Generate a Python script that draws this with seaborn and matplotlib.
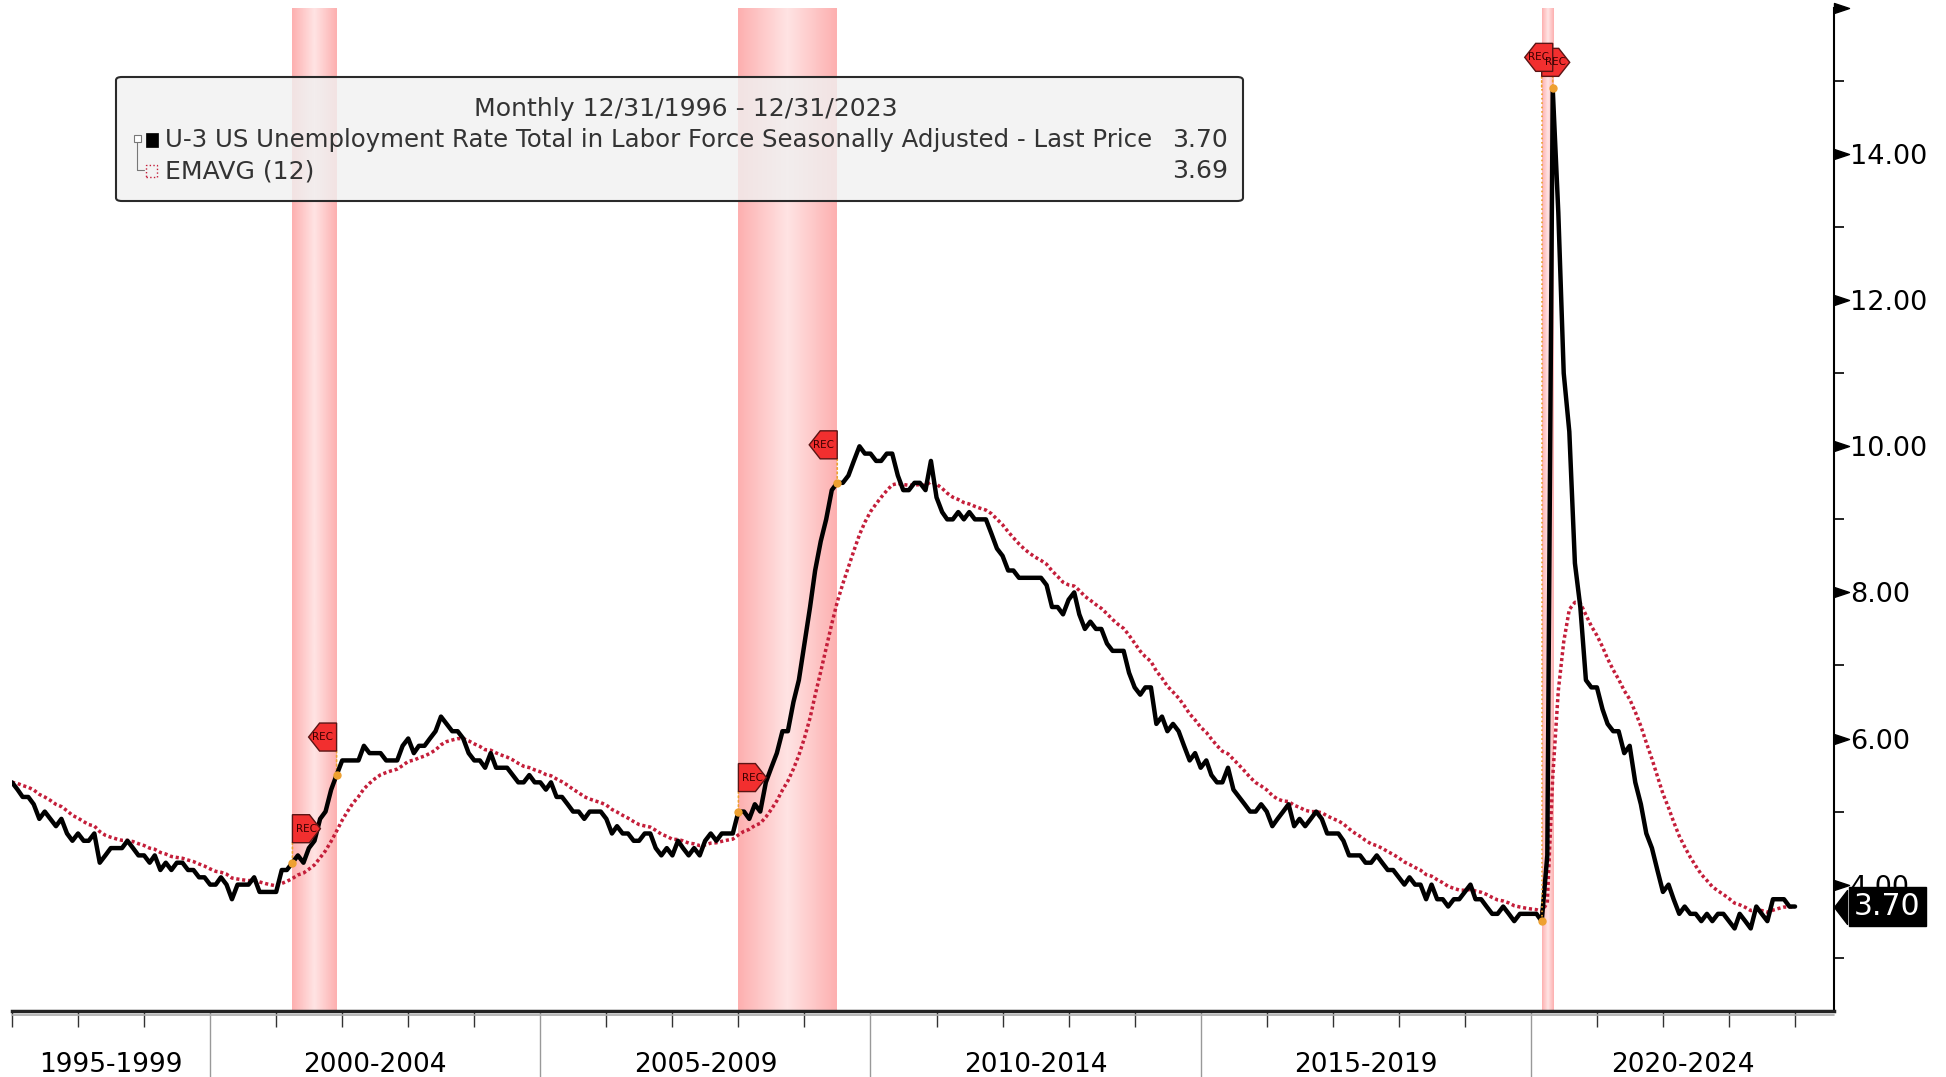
import numpy as np
import pandas as pd
import seaborn as sns
import matplotlib.pyplot as plt
import matplotlib.transforms as mtransforms
from matplotlib import font_manager as fm
from matplotlib.colors import LinearSegmentedColormap
from matplotlib.patches import Polygon, FancyBboxPatch, Rectangle
from matplotlib.lines import Line2D
from matplotlib.path import Path

# U-3 unemployment rate, monthly, Dec 1996 .. Dec 2023
unemp = [5.4,
         5.3, 5.2, 5.2, 5.1, 4.9, 5.0, 4.9, 4.8, 4.9, 4.7, 4.6, 4.7,   # 1997
         4.6, 4.6, 4.7, 4.3, 4.4, 4.5, 4.5, 4.5, 4.6, 4.5, 4.4, 4.4,   # 1998
         4.3, 4.4, 4.2, 4.3, 4.2, 4.3, 4.3, 4.2, 4.2, 4.1, 4.1, 4.0,   # 1999
         4.0, 4.1, 4.0, 3.8, 4.0, 4.0, 4.0, 4.1, 3.9, 3.9, 3.9, 3.9,   # 2000
         4.2, 4.2, 4.3, 4.4, 4.3, 4.5, 4.6, 4.9, 5.0, 5.3, 5.5, 5.7,   # 2001
         5.7, 5.7, 5.7, 5.9, 5.8, 5.8, 5.8, 5.7, 5.7, 5.7, 5.9, 6.0,   # 2002
         5.8, 5.9, 5.9, 6.0, 6.1, 6.3, 6.2, 6.1, 6.1, 6.0, 5.8, 5.7,   # 2003
         5.7, 5.6, 5.8, 5.6, 5.6, 5.6, 5.5, 5.4, 5.4, 5.5, 5.4, 5.4,   # 2004
         5.3, 5.4, 5.2, 5.2, 5.1, 5.0, 5.0, 4.9, 5.0, 5.0, 5.0, 4.9,   # 2005
         4.7, 4.8, 4.7, 4.7, 4.6, 4.6, 4.7, 4.7, 4.5, 4.4, 4.5, 4.4,   # 2006
         4.6, 4.5, 4.4, 4.5, 4.4, 4.6, 4.7, 4.6, 4.7, 4.7, 4.7, 5.0,   # 2007
         5.0, 4.9, 5.1, 5.0, 5.4, 5.6, 5.8, 6.1, 6.1, 6.5, 6.8, 7.3,   # 2008
         7.8, 8.3, 8.7, 9.0, 9.4, 9.5, 9.5, 9.6, 9.8, 10.0, 9.9, 9.9,  # 2009
         9.8, 9.8, 9.9, 9.9, 9.6, 9.4, 9.4, 9.5, 9.5, 9.4, 9.8, 9.3,   # 2010
         9.1, 9.0, 9.0, 9.1, 9.0, 9.1, 9.0, 9.0, 9.0, 8.8, 8.6, 8.5,   # 2011
         8.3, 8.3, 8.2, 8.2, 8.2, 8.2, 8.2, 8.1, 7.8, 7.8, 7.7, 7.9,   # 2012
         8.0, 7.7, 7.5, 7.6, 7.5, 7.5, 7.3, 7.2, 7.2, 7.2, 6.9, 6.7,   # 2013
         6.6, 6.7, 6.7, 6.2, 6.3, 6.1, 6.2, 6.1, 5.9, 5.7, 5.8, 5.6,   # 2014
         5.7, 5.5, 5.4, 5.4, 5.6, 5.3, 5.2, 5.1, 5.0, 5.0, 5.1, 5.0,   # 2015
         4.8, 4.9, 5.0, 5.1, 4.8, 4.9, 4.8, 4.9, 5.0, 4.9, 4.7, 4.7,   # 2016
         4.7, 4.6, 4.4, 4.4, 4.4, 4.3, 4.3, 4.4, 4.3, 4.2, 4.2, 4.1,   # 2017
         4.0, 4.1, 4.0, 4.0, 3.8, 4.0, 3.8, 3.8, 3.7, 3.8, 3.8, 3.9,   # 2018
         4.0, 3.8, 3.8, 3.7, 3.6, 3.6, 3.7, 3.6, 3.5, 3.6, 3.6, 3.6,   # 2019
         3.6, 3.5, 4.4, 14.9, 13.2, 11.0, 10.2, 8.4, 7.8, 6.8, 6.7, 6.7,  # 2020
         6.4, 6.2, 6.1, 6.1, 5.8, 5.9, 5.4, 5.1, 4.7, 4.5, 4.2, 3.9,   # 2021
         4.0, 3.8, 3.6, 3.7, 3.6, 3.6, 3.5, 3.6, 3.5, 3.6, 3.6, 3.5,   # 2022
         3.4, 3.6, 3.5, 3.4, 3.7, 3.6, 3.5, 3.8, 3.8, 3.8, 3.7, 3.7]   # 2023

recessions = [('2001-03', '2001-11'), ('2007-12', '2009-06'), ('2020-02', '2020-04')]
period_labels = ['1995-1999', '2000-2004', '2005-2009', '2010-2014', '2015-2019', '2020-2024']
period_bounds = [1997, 2000, 2005, 2010, 2015, 2020]
y_major = [4, 6, 8, 10, 12, 14, 16]
y_minor = [3, 5, 7, 9, 11, 13, 15]
title_text = 'Monthly 12/31/1996 - 12/31/2023'
series_name = 'U-3 US Unemployment Rate Total in Labor Force Seasonally Adjusted - Last Price'
ema_name = 'EMAVG (12)'
last_price = 3.70
ema_last = 3.69

W, H = 1946, 1077
XMIN, XMAX = 1997.0, 2024.59
YMIN, YMAX = 2.27, 16.0


def dec_year(d):
    # month-end date -> decimal year
    d = pd.DatetimeIndex(np.atleast_1d(d))
    days = np.where(d.is_leap_year, 366, 365)
    return np.asarray(d.year + d.dayofyear / days, dtype=float)


dates = pd.date_range('1996-12-31', periods=len(unemp), freq='ME')
df = pd.DataFrame({'date': dates, 'rate': unemp})
df['x'] = dec_year(dates)
df['ema'] = df['rate'].ewm(span=12, adjust=False).mean()


def pick_font(names):
    for n in names:
        try:
            fm.findfont(fm.FontProperties(family=n), fallback_to_default=False)
            return n
        except ValueError:
            pass
    return 'DejaVu Sans'


sns.set_style('white')
plt.rcParams['font.family'] = ['DejaVu Sans']
narrow = pick_font(['Liberation Sans Narrow', 'DejaVu Sans'])

fig = plt.figure(figsize=(W / 100, H / 100), dpi=100)
ax = fig.add_axes([12 / W, 66 / H, 1822 / W, 1003 / H])
ax.set_xlim(XMIN, XMAX)
ax.set_ylim(YMIN, YMAX)

# recession bands, lighter in the middle
band_cmap = LinearSegmentedColormap.from_list('band', ['#ffe3e3', '#fdb0b0'])
grad = np.abs(np.linspace(-1, 1, 64))[np.newaxis, :]
rec_x = []
for s, e in recessions:
    sx = dec_year(pd.Period(s, 'M').to_timestamp(how='end').normalize())[0]
    ex = dec_year(pd.Period(e, 'M').to_timestamp(how='end').normalize())[0]
    rec_x.append((s, e, sx, ex))
    ax.imshow(grad, extent=[sx, ex, YMIN, YMAX], aspect='auto', cmap=band_cmap,
              interpolation='bilinear', zorder=0.5)

sns.lineplot(data=df, x='x', y='ema', ax=ax, color='#c41e3a', lw=2.5,
             linestyle=(0, (0.9, 0.8)), zorder=3)
sns.lineplot(data=df, x='x', y='rate', ax=ax, color='black', lw=3.2, zorder=4)
ax.set_xlabel('')
ax.set_ylabel('')

# REC tags
px2pt = 72 / fig.dpi
orange = '#eea030'
rate_at = dict(zip(df['date'].dt.strftime('%Y-%m'), df['rate']))


def rec_tag(x, y_point, y_anchor, rise, pointing):
    b, t, h = 17, 11, 14
    if pointing == 'right':
        verts = [(0, -h), (b, -h), (b + t, 0), (b, h), (0, h)]
        cx = (b + t) / 2
    else:
        verts = [(0, -h), (-b, -h), (-b - t, 0), (-b, h), (0, h)]
        cx = -(b + t) / 2
    verts = [(vx, vy + rise) for vx, vy in verts]
    trans = mtransforms.Affine2D() + mtransforms.ScaledTranslation(x, y_anchor, ax.transData)
    ax.plot([x, x], [y_point, y_anchor], color=orange, lw=1.2, ls=':', zorder=5)
    ax.annotate('', xy=(x, y_anchor), xytext=(0, (rise - h) * px2pt), textcoords='offset points',
                arrowprops=dict(arrowstyle='-', color=orange, lw=1.2, ls=':', shrinkA=0, shrinkB=0))
    ax.plot([x], [y_point], 'o', color=orange, ms=5, zorder=5)
    ax.add_artist(Polygon(verts, closed=True, transform=trans, fc='#f22f2f', ec='#5a1515',
                          lw=1, zorder=6))
    ax.annotate('REC', xy=(x, y_anchor), xytext=(cx * px2pt, rise * px2pt),
                textcoords='offset points', ha='center', va='center', fontsize=7.5,
                color='#3a0000', zorder=7)


tags = []
for s, e, sx, ex in rec_x:
    ys, ye = rate_at[s], rate_at[e]
    if ex - sx < 0.5:
        top = max(ys, ye)
        tags.append(('start', sx, ys, top, 26))
        tags.append(('end', ex, ye, top, 31))
    else:
        tags.append(('start', sx, ys, ys, 34))
        tags.append(('end', ex, ye, ye, 38))
for kind, x, yp, ya, rise in sorted(tags, key=lambda t: t[0] != 'start'):
    rec_tag(x, yp, ya, rise, 'right' if kind == 'start' else 'left')

# spines
for s in ['left', 'top']:
    ax.spines[s].set_visible(False)
ax.spines['right'].set_linewidth(1.5)
ax.spines['right'].set_color('black')
ax.spines['bottom'].set_linewidth(2.5)
ax.spines['bottom'].set_color('#222222')
ax.plot([0, 1], [-0.004, -0.004], transform=ax.transAxes, color='#aaaaaa', lw=1.2, clip_on=False)

# right axis
ax.yaxis.tick_right()
ax.set_yticks(y_major)
ax.set_yticklabels(['' if v == YMAX else f'{v:.2f}' for v in y_major])
ax.set_yticks(y_minor, minor=True)
ax.tick_params(axis='y', which='major', length=0, pad=11.5, labelsize=19.5, labelcolor='black')
ax.tick_params(axis='y', which='minor', right=True, length=7, width=1.2, color='black',
               direction='out')
tri = Path([(0, -5), (0, 5), (15, 0), (0, -5)], [Path.MOVETO, Path.LINETO, Path.LINETO, Path.CLOSEPOLY])
ax.plot([1] * len(y_major), y_major, transform=ax.get_yaxis_transform(), marker=tri, ms=21.6,
        ls='none', color='black', clip_on=False)

# last price box
larr = Path([(0, 0), (1, 1.3), (1, -1.3), (0, 0)], [Path.MOVETO, Path.LINETO, Path.LINETO, Path.CLOSEPOLY])
ax.plot([1], [last_price], transform=ax.get_yaxis_transform(), marker=larr, ms=24.4,
        ls='none', color='black', clip_on=False, zorder=8)
ax.annotate(f'{last_price:.2f}', xy=(1, last_price), xycoords=ax.get_yaxis_transform(),
            xytext=(14.5, 0), textcoords='offset points', ha='left', va='center', fontsize=21.5,
            color='white', annotation_clip=False, zorder=9,
            bbox=dict(boxstyle='square,pad=0.18', fc='black', ec='black'))

# bottom axis
ax.set_xticks(period_bounds[1:])
ax.set_xticklabels([''] * (len(period_bounds) - 1))
ax.set_xticks(range(1997, 2025), minor=True)
ax.tick_params(axis='x', which='major', bottom=True, length=48, width=1, color='#999999',
               direction='out')
ax.tick_params(axis='x', which='minor', bottom=True, length=11.5, width=1, color='#333333',
               direction='out')
bounds = period_bounds + [XMAX]
for lab, lo, hi in zip(period_labels, bounds[:-1], bounds[1:]):
    ax.text((lo + hi) / 2, -0.054, lab, transform=ax.get_xaxis_transform(), ha='center',
            va='center', fontsize=23 if narrow != 'DejaVu Sans' else 19, family=narrow,
            color='black')

ax.set_xlim(XMIN, XMAX)
ax.set_ylim(YMIN, YMAX)


# legend panel
def fx(p):
    return p / W


def fy(p):
    return 1 - p / H


fig.add_artist(FancyBboxPatch((fx(116), fy(201)), 1127 / W, 124 / H,
                              boxstyle='round,pad=0,rounding_size=0.003',
                              transform=fig.transFigure, fc=(0.94, 0.94, 0.94, 0.8),
                              ec='#2a2a2a', lw=1.5, zorder=10))
txt = dict(fontsize=18.1, color='#333333', va='center', zorder=11)
fig.text(fx(686), fy(109), title_text, ha='center', **txt)
fig.text(fx(165), fy(140), series_name, ha='left', **{**txt, 'fontsize': 17.6})
fig.text(fx(1228), fy(140), f'{last_price:.2f}', ha='right', **txt)
fig.text(fx(165), fy(171), ema_name, ha='left', **txt)
fig.text(fx(1228), fy(171), f'{ema_last:.2f}', ha='right', **txt)
fig.add_artist(Line2D([fx(137), fx(137), fx(144)], [fy(142), fy(170), fy(170)],
                      transform=fig.transFigure, color='#777777', lw=0.8, zorder=11))
fig.add_artist(Rectangle((fx(134), fy(142)), 7 / W, 7 / H, transform=fig.transFigure,
                         fc='white', ec='#777777', lw=0.8, zorder=12))
fig.add_artist(Rectangle((fx(146), fy(147)), 12 / W, 14 / H, transform=fig.transFigure,
                         fc='black', ec='black', lw=0.5, zorder=12))
fig.add_artist(Rectangle((fx(146), fy(177)), 11 / W, 12 / H, transform=fig.transFigure,
                         fc='none', ec='#c41e3a', lw=1, ls=':', zorder=12))

fig.savefig('out.png', dpi=100, facecolor='white')
